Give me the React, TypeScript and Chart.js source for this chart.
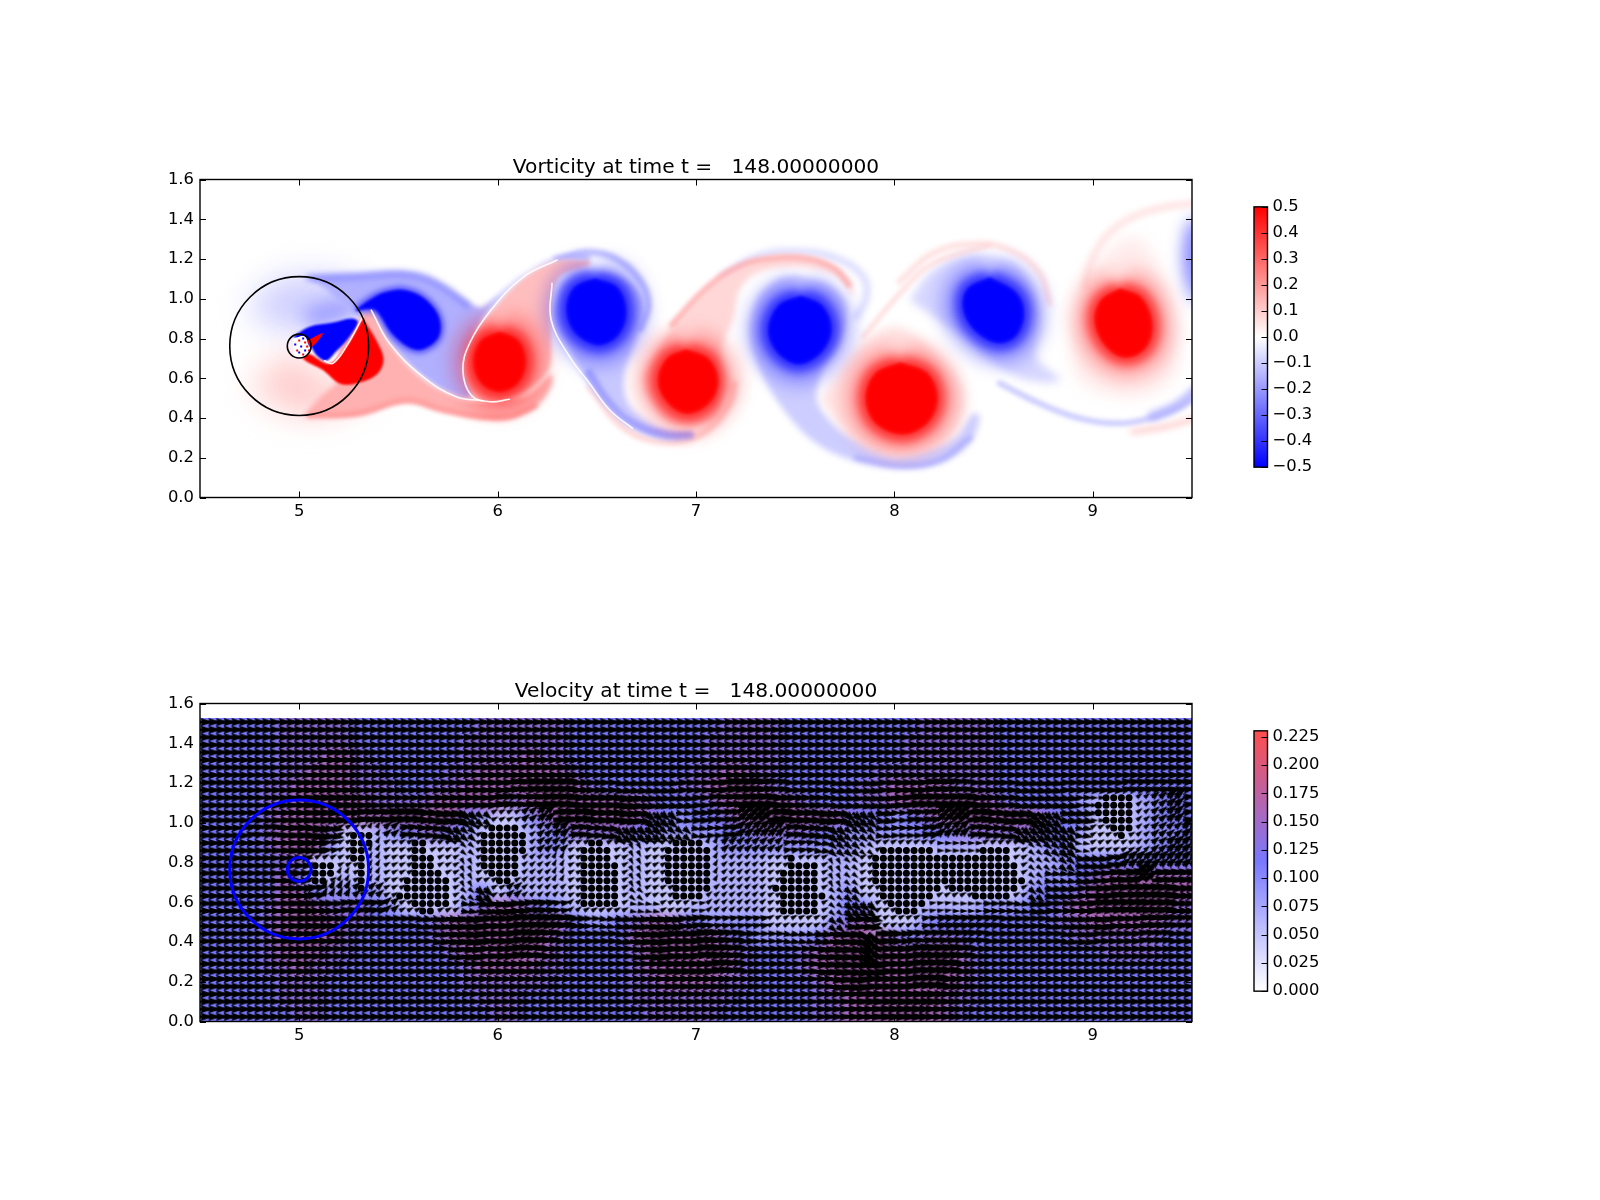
import { useEffect, useRef } from "react";
import { Chart, registerables } from "chart.js";

// must come before Filler so the blur is already set when a shape gets filled
Chart.register({
  id: "layerBlur",
  beforeDatasetDraw(chart: any, args: any) {
    const blur = chart.data.datasets[args.index].blur;
    if (blur) {
      chart.ctx.save();
      chart.ctx.filter = `blur(${blur}px)`;
    }
  },
  afterDatasetDraw(chart: any, args: any) {
    if (chart.data.datasets[args.index].blur) chart.ctx.restore();
  },
});
Chart.register(...registerables);
Chart.defaults.font.family = "'DejaVu Sans'";
Chart.defaults.color = "#000";

type Pts = number[][];

const xTicks = [5, 6, 7, 8, 9];
const yTicks = [0, 0.2, 0.4, 0.6, 0.8, 1.0, 1.2, 1.4, 1.6];
const vortTicks = [-0.5, -0.4, -0.3, -0.2, -0.1, 0, 0.1, 0.2, 0.3, 0.4, 0.5];
const speedTicks = [0, 0.025, 0.05, 0.075, 0.1, 0.125, 0.15, 0.175, 0.2, 0.225];
const ringRadii = [0.35, 0.06];
const ringCenterVort = [{ x: 5, y: 0.762 }];
const ringCenterVel = [{ x: 5, y: 0.765 }];

// vorticity structures, [x, y]
const blueCoreC: Pts = [[5.287,.943],[5.388,1.01],[5.439,1.03],[5.523,1.04],[5.623,1.002],[5.699,.91],[5.699,.809],[5.623,.75],[5.556,.759],[5.472,.826],[5.405,.927],[5.371,.952],[5.287,.943]];
const blueCores: Pts[] = [
  [[6.49,1.095],[6.6,1.05],[6.64,.93],[6.6,.82],[6.51,.775],[6.4,.83],[6.355,.94],[6.39,1.05],[6.49,1.095]],
  [[7.53,1.007],[7.63,.96],[7.674,.85],[7.63,.74],[7.52,.679],[7.42,.73],[7.372,.84],[7.42,.96],[7.53,1.007]],
  [[8.48,1.1],[8.607,1.027],[8.645,.927],[8.607,.818],[8.523,.785],[8.414,.843],[8.355,.944],[8.372,1.044],[8.48,1.1]],
];
const redCores: Pts[] = [
  [[6.01,.826],[6.097,.785],[6.133,.683],[6.097,.581],[6.01,.54],[5.923,.581],[5.887,.683],[5.923,.785],[6.01,.826]],
  [[6.95,.737],[7.06,.69],[7.103,.583],[7.06,.48],[6.96,.43],[6.87,.475],[6.817,.583],[6.86,.695],[6.95,.737]],
  [[8.03,.672],[8.16,.62],[8.209,.5],[8.16,.38],[8.04,.326],[7.91,.38],[7.863,.5],[7.91,.62],[8.03,.672]],
  [[9.136,1.044],[9.237,1.002],[9.291,.876],[9.262,.76],[9.17,.712],[9.077,.76],[9.019,.876],[9.044,.985],[9.136,1.044]],
];
const nearBlue: Pts = [[4.968,.809],[5.052,.859],[5.17,.88],[5.262,.901],[5.296,.884],[5.254,.809],[5.186,.734],[5.136,.688],[5.086,.717],[5.052,.767],[4.968,.809]];
const nearRed: Pts = [[5.321,.901],[5.388,.792],[5.425,.692],[5.388,.616],[5.287,.574],[5.203,.574],[5.119,.641],[5.018,.70],[5.044,.725],[5.136,.675],[5.173,.683],[5.237,.759],[5.321,.901]];
const nearWedge: Pts = [[5.04,.79],[5.119,.826],[5.06,.755],[5.04,.79]];

const washBlue: Pts = [[4.73,.94],[4.87,1.08],[5.0,1.11],[5.25,1.09],[5.32,.98],[5.17,.91],[5.0,.83],[4.95,.83],[4.73,.94]];
const washBlueDeep: Pts = [[5.02,.94],[5.2,1.0],[5.33,.98],[5.25,.9],[5.05,.86],[5.02,.94]];
const washRed: Pts = [[4.75,.57],[4.88,.46],[5.02,.41],[5.2,.44],[5.39,.56],[5.2,.57],[5.02,.69],[4.95,.725],[4.75,.57]];

const lobeBlueC: Pts = [[5.05,1.108],[5.287,1.119],[5.54,1.131],[5.69,1.086],[5.876,.968],[5.926,.96],[6.128,1.119],[6.296,1.208],[6.464,1.22],[6.464,1.203],[6.296,1.198],[6.128,1.111],[5.96,.943],[5.859,.776],[5.825,.641],[5.867,.507],[5.79,.507],[5.624,.608],[5.456,.776],[5.355,.943],[5.25,.96],[5.12,1.06],[5.05,1.108]];
const lobeRedBand: Pts = [[5.02,.41],[5.29,.415],[5.54,.482],[5.72,.437],[5.91,.398],[6.06,.398],[6.195,.457],[6.27,.557],[6.27,.62],[6.16,.52],[6.04,.49],[5.93,.482],[5.81,.5],[5.62,.6],[5.455,.776],[5.36,.94],[5.3,.9],[5.2,.76],[5.2,.6],[5.1,.5],[5.02,.41]];
const lobeRedD: Pts = [[6.464,1.198],[6.296,1.192],[6.128,1.103],[5.96,.926],[5.867,.776],[5.834,.641],[5.876,.524],[5.96,.482],[6.077,.507],[6.195,.574],[6.262,.658],[6.27,.809],[6.27,.977],[6.313,1.111],[6.464,1.17],[6.464,1.198]];
const lobeBlueE: Pts = [[6.29,.98],[6.33,1.08],[6.42,1.145],[6.56,1.13],[6.68,1.07],[6.74,.97],[6.7,.8],[6.64,.62],[6.66,.47],[6.8,.36],[6.97,.31],[6.8,.305],[6.63,.4],[6.46,.57],[6.35,.76],[6.28,.9],[6.29,.98]];
const lobeRedF: Pts = [[6.78,.708],[6.884,.859],[7.05,1.044],[7.22,1.161],[7.405,1.208],[7.573,1.203],[7.708,1.153],[7.783,1.078],[7.79,1.01],[7.74,1.094],[7.624,1.145],[7.472,1.161],[7.304,1.128],[7.22,1.044],[7.187,.893],[7.136,.776],[7.11,.574],[7.12,.423],[7.035,.373],[6.867,.381],[6.766,.49],[6.733,.608],[6.78,.708]];
const lobeBlueG: Pts = [[7.506,1.119],[7.674,1.069],[7.758,.96],[7.725,.776],[7.64,.641],[7.607,.507],[7.657,.406],[7.79,.289],[7.977,.205],[8.145,.222],[8.313,.306],[8.397,.423],[8.43,.406],[8.38,.272],[8.229,.171],[8.027,.146],[7.81,.18],[7.607,.272],[7.456,.423],[7.338,.608],[7.27,.809],[7.304,.994],[7.405,1.094],[7.506,1.119]];
const lobeRedH: Pts = [[7.624,.49],[7.758,.675],[7.876,.809],[8.027,.859],[8.229,.708],[8.347,.54],[8.33,.373],[8.229,.255],[8.027,.205],[7.81,.272],[7.624,.49]];
const lobeBlueJ: Pts = [[8.077,.994],[8.195,1.145],[8.397,1.22],[8.6,1.178],[8.7,1.061],[8.741,.893],[8.716,.708],[8.834,.591],[8.666,.591],[8.498,.675],[8.313,.826],[8.077,.994]];
const lobeRedK: Pts = [[8.968,1.145],[8.9,.809],[8.935,.591],[9.2,.507],[9.405,.608],[9.42,.809],[9.338,1.145],[9.203,1.312],[8.968,1.145]];
const edgeBlue: Pts = [[9.472,1.363],[9.455,1.195],[9.49,1.027],[9.54,.977],[9.54,1.413],[9.472,1.363]];

const bandTopC: Pts = [[5.05,1.105],[5.29,1.115],[5.54,1.125],[5.69,1.08],[5.85,.97]];
const bandBottomD: Pts = [[5.05,.41],[5.29,.42],[5.54,.485],[5.72,.44],[5.91,.405],[6.06,.405],[6.19,.46]];
const tailBlueE: Pts = [[6.46,.625],[6.565,.473],[6.68,.373],[6.85,.314],[6.97,.314]];
const arcBlueE: Pts = [[6.3,1.2],[6.46,1.235],[6.6,1.2],[6.72,1.09],[6.76,.97],[6.72,.85]];
const arcRedF: Pts = [[6.464,.557],[6.63,.356],[6.83,.28],[7.035,.323],[7.17,.473],[7.195,.574]];
const arcRedFTop: Pts = [[6.88,.87],[7.05,1.05],[7.22,1.165],[7.405,1.205],[7.57,1.2],[7.7,1.15],[7.77,1.07]];
const tailBlueG: Pts = [[7.81,.2],[8.03,.16],[8.23,.19],[8.38,.3]];
const arcBlueG: Pts = [[7.136,1.11],[7.304,1.21],[7.506,1.237],[7.708,1.203],[7.842,1.111],[7.859,1.01],[7.81,.91]];
const arcPinkH: Pts = [[7.842,.809],[8.044,1.044],[8.195,1.178],[8.48,1.27]];
const arcPinkJ: Pts = [[8.027,1.086],[8.195,1.229],[8.414,1.276],[8.6,1.237],[8.733,1.128],[8.783,.977]];
const arcPinkK: Pts = [[9.506,1.48],[9.304,1.447],[9.12,1.363],[9.002,1.212],[8.96,1.061]];
const tailBlueK: Pts = [[8.531,.574],[8.733,.473],[8.935,.398],[9.12,.373],[9.288,.398],[9.422,.448],[9.523,.507]];
const tailBlueEnd: Pts = [[9.3,.41],[9.42,.46],[9.52,.54]];
const tailRedEnd: Pts = [[9.203,.331],[9.37,.357],[9.515,.398]];

const whiteSeams: Pts[] = [
  [[5.127,.688],[5.17,.675],[5.237,.759],[5.321,.91]],
  [[5.363,.943],[5.455,.776],[5.623,.608],[5.791,.507],[5.926,.487]],
  [[6.3,1.195],[6.128,1.108],[5.96,.935],[5.859,.776],[5.825,.641],[5.867,.515],[5.96,.482],[6.06,.494]],
  [[6.274,1.078],[6.27,.893],[6.363,.708],[6.464,.574],[6.565,.44],[6.68,.348]],
];
const hubWhite: Pts = [[4.97,.80],[5.03,.81],[5.04,.72],[4.98,.71],[4.97,.80]];
const hubRedSpecks = [[5.03,.78],[5.06,.79],[5.05,.74],[5.02,.72],[4.99,.74],[5.0,.79],[5.04,.76]];
const hubBlueSpecks = [[4.98,.77],[5.01,.76],[5.0,.73],[5.02,.8],[5.03,.74]];

// velocity panel: one char per 2x2 block of arrows, top row first
// a=0 b=9 c=40 d=62 e=90 f=-9 g=-40 h=-62 degrees, "." = nearly still
const calm = "a".repeat(65);
const dirRows = [
  calm, calm, calm, calm,
  "aaaaaaaaaa aaaaaaaaaa bbbbaaafff faaabbbbaa afffaaabbb aaafffaaaa bbbbb",
  "aaaaaaaaaa aaaaaaaaab bbbbaaafff ffabbbbaaa affffabbbb aaaffffaa. .cccb",
  "aaaaaaaaaa bbbbaffgg. .ccbbaaffg gfabbccbaa ffggfabbcc baffggffa. .cccb",
  "aaabbaaff. .dcbafgg.. .cccbafggg ggfabcccba fgggfaabcc bafggggf.. .cccc",
  "aaaaaaaab. .d.....g.. .ccc....h. ...dccccbb fggg....aa a...gggf.. .cccc",
  "aaaaaaa... .d.....h.. .ccd....h. ...dccc... .hg....... ....gggffb ccccc",
  "aaaaaaa..d .d.....h.. .ccd....h. ...dccc... .hg....... ....gfffab bcbbb",
  "aaaaaaabdd cc.....gg. cccc....g. ...cccc... .gg....... ....gffaab bbbaa",
  "aaaaaaaaab bbc....fff abbbc...ff ..bcccc... .ggg...bba aaaffaaabb bbbaa",
  "aaaaaaaaaa aaaaffffaa bbbbaaffff fabbbbb... .gff...bbb bbaaaffffa abbbb",
  "aaaaaaaaaa aaaaafffaa bbbaaaafff aabbbaaaff fffgaabbbb baaaaaffaa abbaa",
  "aaaaaaaaaa aaaaaaffaa bbaaaaaaff aabbbaaaaa fffgaabbbb aaaaaaaaaa aaaaa",
  "aaaaaaaaaa aaaaaaaaaa aaaaaaaaaa aaabbaaaaa ffffaabbba aaaaaaaaaa aaaaa",
  "aaaaaaaaaa aaaaaaaaaa aaaaaaaaaa aaaaaaaaaa affaaabbaa aaaaaaaaaa aaaaa",
  calm, calm,
];
// speed in steps of 0.0225, same blocks
const speedRows = [
  "5555566666 5555555566 6666555555 5555666655 5555555666 6655555555 55555",
  "5555566666 5555555666 6666555555 5556666655 5555556666 6655555555 55555",
  "5555566677 6555555666 6766555555 5556666655 5555556666 6655555555 55555",
  "5555566777 6655556677 7777655555 5566776655 5555666666 6655555555 55555",
  "5555667777 6665566777 7888765555 5667887655 5556677776 6655555555 55555",
  "5555667888 7666677777 6788999876 5556788876 5556678888 8765555431 13455",
  "5555677888 7788888541 1468999876 5455678888 8765545678 8888765531 13455",
  "5555678861 1345665421 1345666655 4444556666 5544444556 6666655421 13445",
  "5555678741 1311111311 1344111131 1113444444 4443111133 3111345311 13455",
  "5555566111 1311111311 1333111131 1113333111 1331111111 1111334555 55555",
  "5555575113 1311111311 1333111131 1113333111 1331111111 1111344567 88777",
  "5555577544 4411111351 4333111131 1113333111 1341111111 1111455688 99887",
  "5555678766 6541111467 7654311133 1133333111 1355111333 3444556789 98876",
  "5555678876 6555567899 9987544567 7654444111 1467111455 5555556677 77766",
  "5555677776 5555567899 9876555578 9987654444 5789865666 5555555666 66655",
  "5555677766 5555556778 8776555568 9998765556 7899999887 6555555556 66655",
  "5555667665 5555555677 7766555567 8888765556 7899999987 6555555555 55555",
  "5555566655 5555555666 6665555566 7777665555 6789999987 6555555555 55555",
  "5555566655 5555555566 6555555566 6666655555 6678999876 6555555555 55555",
  "5555556655 5555555556 6555555556 6666555555 6677888776 5555555555 55555",
];
const dirAngles: Record<string, number> = { a: 0, b: 9, c: 40, d: 62, e: 90, f: -9, g: -40, h: -62, ".": 30 };
const speedStep = 0.0225;

// outlines of the patches where the arrows shrink to dots
const dotPatches: Pts[] = [
  [[5.07,.82],[5.187,.82],[5.16,.75],[5.145,.68],[5.077,.68],[5.06,.75]],
  [[5.27,.97],[5.38,.97],[5.346,.863],[5.346,.67],[5.287,.67],[5.296,.779],[5.237,.846],[5.237,.913]],
  [[5.56,.91],[5.63,.90],[5.68,.80],[5.76,.68],[5.76,.56],[5.6,.55],[5.49,.64],[5.55,.75]],
  [[6.0,1.0],[6.12,1.0],[6.14,.87],[6.09,.74],[6.02,.67],[5.93,.77],[5.92,.93]],
  [[6.46,.93],[6.57,.88],[6.62,.70],[6.63,.57],[6.42,.56],[6.40,.77]],
  [[6.934,.93],[7.01,.93],[7.086,.862],[7.086,.695],[7.035,.611],[6.9,.602],[6.834,.736],[6.834,.82],[6.867,.888]],
  [[7.472,.829],[7.598,.804],[7.624,.678],[7.649,.611],[7.573,.527],[7.422,.535],[7.397,.678],[7.439,.778]],
  [[7.959,.896],[8.143,.896],[8.219,.854],[8.396,.821],[8.429,.896],[8.53,.896],[8.597,.829],[8.648,.728],[8.631,.661],[8.572,.603],[8.421,.619],[8.261,.678],[8.194,.645],[8.127,.569],[8.06,.519],[7.992,.569],[7.925,.619],[7.892,.745],[7.905,.84]],
  [[9.076,1.156],[9.177,1.156],[9.21,1.123],[9.21,.98],[9.16,.905],[9.101,.946],[9.051,.997],[9.017,1.072],[9.051,1.123]],
];

const speedStops = [
  [0, 255, 255, 255],
  [0.115, 120, 120, 255],
  [0.23, 255, 77, 77],
];

function speedColor(v: number) {
  for (let i = 1; i < speedStops.length; i++) {
    const a = speedStops[i - 1];
    const b = speedStops[i];
    if (v <= b[0]) {
      const t = (v - a[0]) / (b[0] - a[0]);
      return `rgb(${a[1] + (b[1] - a[1]) * t},${a[2] + (b[2] - a[2]) * t},${a[3] + (b[3] - a[3]) * t})`;
    }
  }
  return "rgb(255,77,77)";
}

function insidePatch(x: number, y: number) {
  return dotPatches.some((poly) => {
    let inside = false;
    for (let i = 0, j = poly.length - 1; i < poly.length; j = i++) {
      const [xi, yi] = poly[i];
      const [xj, yj] = poly[j];
      if (yi > y !== yj > y && x < ((xj - xi) * (y - yi)) / (yj - yi) + xi) inside = !inside;
    }
    return inside;
  });
}

const cellAt = (rows: string[], j: number, i: number, fallback: string) =>
  rows[j].replace(/ /g, "")[i] ?? fallback;

const arrowPoints: any[] = [];
const dotPoints: any[] = [];
for (let k = 0; k < 40; k++) {
  for (let c = 0; c < 130; c++) {
    const j = 19 - (k >> 1);
    const i = c >> 1;
    const dir = cellAt(dirRows, j, i, "a");
    let digit = Number(cellAt(speedRows, j, i, "5"));
    if (digit < 3) digit = 3;
    const p = { x: 4.5 + 0.0387 * c, y: 0.024 + 0.038 * k, angle: dirAngles[dir] ?? 0, digit };
    if (insidePatch(p.x, p.y)) dotPoints.push(p);
    else arrowPoints.push(p);
  }
}

const sprites = new Map<number, HTMLCanvasElement>();
function arrowSprite(digit: number) {
  if (sprites.has(digit)) return sprites.get(digit)!;
  const len = digit <= 5 ? digit * 2.6 : 13 + (digit - 5) * 1.4;
  const s = Math.min(1, len / 12.5);
  // the fast lobes read as almost solid black in the reference
  const shaft = digit >= 8 ? 2.6 : digit === 7 ? 2 : 1.4;
  const head = digit >= 8 ? 4.8 : digit === 7 ? 4.5 : 4.2;
  const half = Math.ceil(len) + 2;
  const cv = document.createElement("canvas");
  cv.width = half * 2;
  cv.height = 14;
  const g = cv.getContext("2d")!;
  g.translate(half, 7);
  g.beginPath();
  g.moveTo(0, -shaft * s);
  g.lineTo(len - 11.25 * s, -shaft * s);
  g.lineTo(len - 12.5 * s, -head * s);
  g.lineTo(len, 0);
  g.lineTo(len - 12.5 * s, head * s);
  g.lineTo(len - 11.25 * s, shaft * s);
  g.lineTo(0, shaft * s);
  g.closePath();
  g.fillStyle = "#000";
  g.fill();
  sprites.set(digit, cv);
  return cv;
}

const toXY = (pts: Pts) => pts.map(([x, y]) => ({ x, y }));
const shape = (pts: Pts, color: string, blur: number, width = 0) => ({
  data: toXY(pts),
  showLine: true,
  fill: "shape",
  backgroundColor: color,
  borderColor: color,
  borderWidth: width,
  borderJoinStyle: "round",
  tension: 0.35,
  pointRadius: 0,
  blur,
});
const stroke = (pts: Pts, color: string, width: number, blur: number) => ({
  data: toXY(pts),
  showLine: true,
  fill: false,
  borderColor: color,
  borderWidth: width,
  borderCapStyle: "round",
  tension: 0.4,
  pointRadius: 0,
  blur,
});
const core = (pts: Pts, rgb: string) => [
  shape(pts, `rgba(${rgb},.3)`, 9, 46),
  shape(pts, `rgba(${rgb},.55)`, 5, 20),
  shape(pts, `rgb(${rgb})`, 1.5, 2),
];
const rings = (center: any[], color: string, width: number) =>
  ringRadii.map((r) => ({
    data: center,
    pointRadius: (c: any) => c.chart.scales.x.getPixelForValue(5 + r) - c.chart.scales.x.getPixelForValue(5),
    pointBackgroundColor: "transparent",
    pointBorderColor: color,
    pointBorderWidth: width,
  }));
const specks = (pts: number[][], color: string) => ({
  data: toXY(pts),
  pointStyle: "rect",
  pointRadius: 1.4,
  pointBackgroundColor: color,
  pointBorderWidth: 0,
});

// painter's order, bottom layer first
const vorticityLayers: any[] = [
  shape(washBlue, "rgba(190,190,255,.75)", 16),
  shape(washBlueDeep, "rgba(130,130,255,.7)", 9),
  shape(washRed, "rgba(255,190,190,.75)", 16),
  shape(lobeRedK, "rgb(255,235,235)", 8),
  shape(lobeRedH, "rgb(255,228,228)", 5),
  shape(lobeBlueJ, "rgb(215,215,255)", 4),
  shape(edgeBlue, "rgba(90,90,255,.75)", 8),
  stroke(arcPinkH, "rgba(255,215,215,.8)", 5, 2),
  stroke(arcPinkJ, "rgba(255,215,215,.8)", 6, 2.5),
  stroke(arcPinkK, "rgba(255,215,215,.8)", 6, 3),
  stroke(tailBlueK, "rgba(200,200,255,.9)", 6, 2),
  stroke(tailBlueEnd, "rgba(170,170,255,.7)", 10, 3),
  stroke(tailRedEnd, "rgba(255,200,200,.8)", 6, 3),
  stroke(arcRedF, "rgba(255,200,200,.8)", 6, 2.5),
  stroke(arcBlueG, "rgba(215,215,255,.9)", 7, 3),
  stroke(arcBlueE, "rgba(190,190,255,.9)", 7, 2),
  shape(lobeBlueG, "rgb(205,205,255)", 3),
  stroke(tailBlueG, "rgba(170,170,255,.7)", 6, 2),
  shape(lobeRedF, "rgb(255,215,215)", 3),
  stroke(arcRedFTop, "rgba(255,170,170,.8)", 6, 2),
  shape(lobeBlueE, "rgb(200,200,255)", 3),
  stroke(tailBlueE, "rgba(150,150,255,.8)", 8, 2),
  shape(lobeRedD, "rgb(255,190,190)", 2),
  shape(lobeBlueC, "rgb(176,176,255)", 2.5),
  stroke(bandTopC, "rgba(120,120,255,.7)", 6, 3),
  shape(lobeRedBand, "rgb(255,176,176)", 2.5),
  stroke(bandBottomD, "rgba(255,120,120,.6)", 5, 2),
  shape(blueCoreC, "rgba(0,0,255,.5)", 3, 8),
  shape(blueCoreC, "rgb(0,0,255)", 1, 1),
  ...blueCores.flatMap((p) => core(p, "0,0,255")),
  ...redCores.flatMap((p) => core(p, "255,0,0")),
  shape(nearBlue, "rgb(0,0,255)", 1),
  shape(nearRed, "rgb(255,0,0)", 1),
  shape(nearWedge, "rgb(255,0,0)", 0.5),
  ...whiteSeams.map((p) => stroke(p, "rgba(255,255,255,.9)", 1.6, 0.5)),
  shape(hubWhite, "#fff", 0.5),
  specks(hubRedSpecks, "#f00"),
  specks(hubBlueSpecks, "#00f"),
  ...rings(ringCenterVort, "#000", 1.6),
];

const velocityLayers: any[] = [
  {
    data: arrowPoints,
    pointRadius: 1,
    pointBorderWidth: 0,
    pointStyle: (c: any) => arrowSprite(c.raw.digit),
    rotation: (c: any) => -c.raw.angle,
  },
  { data: dotPoints, pointRadius: 3.5, pointBorderWidth: 0, pointBackgroundColor: "#000" },
  ...rings(ringCenterVel, "#0000ff", 3),
];

const stacked = (layers: any[]) => layers.map((d, i) => ({ ...d, order: layers.length - i }));

// frame and inward ticks like the original figure
const frame = {
  id: "frame",
  afterDraw(chart: any) {
    const { ctx, chartArea: a, scales } = chart;
    ctx.save();
    ctx.strokeStyle = "#000";
    ctx.lineWidth = 1.4;
    ctx.strokeRect(a.left, a.top, a.right - a.left, a.bottom - a.top);
    ctx.lineWidth = 1;
    ctx.beginPath();
    if (scales.x?.options.display) {
      for (const v of xTicks) {
        const px = Math.round(scales.x.getPixelForValue(v)) + 0.5;
        ctx.moveTo(px, a.bottom);
        ctx.lineTo(px, a.bottom - 6);
        ctx.moveTo(px, a.top);
        ctx.lineTo(px, a.top + 6);
      }
    }
    for (const t of scales.y.ticks) {
      const py = Math.round(scales.y.getPixelForValue(t.value)) + 0.5;
      ctx.moveTo(a.right, py);
      ctx.lineTo(a.right - 6, py);
      if (scales.x?.options.display) {
        ctx.moveTo(a.left, py);
        ctx.lineTo(a.left + 6, py);
      }
    }
    ctx.stroke();
    ctx.restore();
  },
};

// speed colours under the arrows; the dark lobes only show purple between the arrows
const speedImage = {
  id: "speedImage",
  beforeDatasetsDraw(chart: any) {
    const { ctx, scales, chartArea: a } = chart;
    const cols = 65;
    const off = document.createElement("canvas");
    off.width = cols;
    off.height = speedRows.length;
    const g = off.getContext("2d")!;
    speedRows.forEach((row, j) => {
      const clean = row.replace(/ /g, "");
      for (let i = 0; i < cols; i++) {
        const v = Number(clean[i] ?? 5) * speedStep;
        g.fillStyle = speedColor(Math.max(0.05, Math.min(v, 0.16)));
        g.fillRect(i, j, 1, 1);
      }
    });
    const top = scales.y.getPixelForValue(1.525);
    ctx.save();
    ctx.imageSmoothingEnabled = true;
    ctx.imageSmoothingQuality = "high";
    ctx.drawImage(off, a.left, top, a.right - a.left, a.bottom - top);
    ctx.restore();
  },
};

function panelConfig(title: string, datasets: any[], extra: any[]) {
  return {
    type: "scatter",
    data: { datasets: stacked(datasets) },
    plugins: [...extra, frame],
    options: {
      responsive: false,
      animation: false,
      devicePixelRatio: 1,
      events: [],
      layout: { padding: { right: 200 } },
      plugins: {
        legend: { display: false },
        tooltip: { enabled: false },
        title: {
          display: true,
          text: title,
          color: "#000",
          fullSize: false,
          font: { size: 20.2, weight: "normal" },
          padding: { top: 155.26, bottom: 0 },
        },
      },
      scales: {
        x: {
          type: "linear",
          min: 4.5,
          max: 9.5,
          grid: { display: false, drawTicks: false },
          border: { display: false },
          afterBuildTicks: (s: any) => { s.ticks = xTicks.map((value) => ({ value })); },
          afterFit: (s: any) => { s.height = 42.5; },
          ticks: { padding: 4, font: { size: 16.4 }, color: "#000", maxRotation: 0, autoSkip: false, callback: (v: any) => String(v) },
        },
        y: {
          type: "linear",
          min: 0,
          max: 1.6,
          grid: { display: false, drawTicks: false },
          border: { display: false },
          afterBuildTicks: (s: any) => { s.ticks = yTicks.map((value) => ({ value })); },
          afterFit: (s: any) => { s.width = 200; },
          ticks: { padding: 6, font: { size: 16.4 }, color: "#000", autoSkip: false, callback: (v: any) => Number(v).toFixed(1) },
        },
      },
    },
  };
}

function colorbarConfig(min: number, max: number, ticks: number[], label: (v: number) => string, stops: [number, string][], pad: any) {
  return {
    type: "bar",
    data: {
      labels: [""],
      datasets: [
        {
          data: [[min, max]],
          barPercentage: 1,
          categoryPercentage: 1,
          backgroundColor: (c: any) => {
            const a = c.chart.chartArea;
            if (!a) return "#fff";
            const grad = c.chart.ctx.createLinearGradient(0, a.bottom, 0, a.top);
            stops.forEach(([at, color]) => grad.addColorStop(at, color));
            return grad;
          },
        },
      ],
    },
    plugins: [frame],
    options: {
      responsive: false,
      animation: false,
      devicePixelRatio: 1,
      events: [],
      layout: { padding: pad },
      plugins: { legend: { display: false }, tooltip: { enabled: false } },
      scales: {
        x: { display: false },
        y: {
          position: "right",
          min,
          max,
          grid: { display: false, drawTicks: false },
          border: { display: false },
          afterBuildTicks: (s: any) => { s.ticks = ticks.map((value) => ({ value })); },
          afterFit: (s: any) => { s.width = 86.5; },
          ticks: { padding: 5, font: { size: 16.4 }, color: "#000", autoSkip: false, callback: (v: any) => label(Number(v)) },
        },
      },
    },
  };
}

const vortLabel = (v: number) => (v < 0 ? "\u2212" : "") + Math.abs(v).toFixed(1);
const speedLabel = (v: number) => v.toFixed(3);

function ChartCanvas({ config, left, top, width, height }: any) {
  const ref = useRef<HTMLCanvasElement>(null);
  useEffect(() => {
    if (!ref.current) return;
    const chart = new Chart(ref.current, config());
    return () => chart.destroy();
  }, []);
  return <canvas ref={ref} width={width} height={height} style={{ position: "absolute", left, top, width, height }} />;
}

export default function App() {
  return (
    <div style={{ position: "absolute", left: 0, top: 0, width: 1600, height: 1200, background: "#fff" }}>
      <ChartCanvas
        left={0} top={0} width={1392} height={540}
        config={() => panelConfig("Vorticity at time t =   148.00000000", vorticityLayers, [])}
      />
      <ChartCanvas
        left={0} top={524} width={1392} height={540}
        config={() => panelConfig("Velocity at time t =   148.00000000", velocityLayers, [speedImage])}
      />
      <ChartCanvas
        left={1240} top={192} width={114} height={290}
        config={() => colorbarConfig(-0.5, 0.5, vortTicks, vortLabel, [[0, "#0000ff"], [0.5, "#ffffff"], [1, "#ff0000"]], { left: 14, top: 7.7, bottom: 6.7 })}
      />
      <ChartCanvas
        left={1240} top={716} width={114} height={290}
        config={() => colorbarConfig(0, 0.2303, speedTicks, speedLabel, [[0, "#ffffff"], [0.5, "#7878ff"], [1, "#ff4d4d"]], { left: 14, top: 6.7, bottom: 7.2 })}
      />
    </div>
  );
}
